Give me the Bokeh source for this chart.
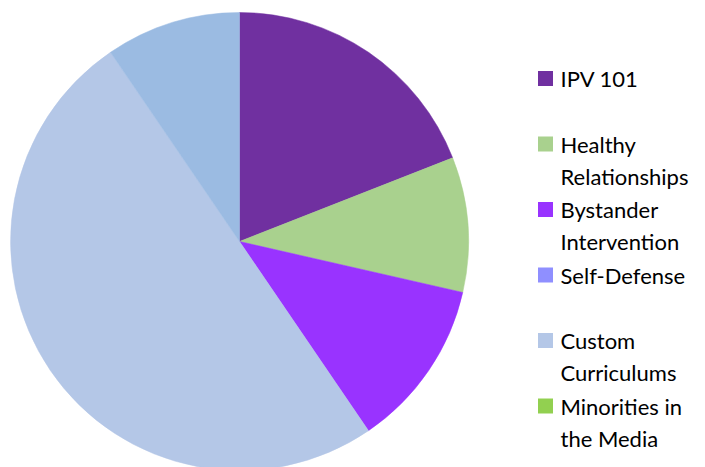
import math
from bokeh.plotting import figure
from bokeh.models import Range1d, ColumnDataSource
from bokeh.core.properties import value
from bokeh.embed import file_html
from bokeh.resources import INLINE

# Data
categories = ["IPV 101", "Healthy Relationships", "Bystander Intervention",
              "Self-Defense", "Custom Curriculums", "Minorities in the Media", "Other"]
values = [8, 4, 5, 0, 21, 0, 4]
colors = ["#7030A0", "#A9D18E", "#9933FF", "#8F8FFF", "#B4C7E7", "#92D050", "#9BBBE2"]
legend_lines = [["IPV 101"], ["Healthy", "Relationships"], ["Bystander", "Intervention"],
                ["Self-Defense"], ["Custom", "Curriculums"], ["Minorities in", "the Media"]]

W, H = 705, 467
p = figure(width=W, height=H, output_backend="svg", toolbar_location=None,
           x_range=Range1d(0, W), y_range=Range1d(0, H), min_border=0)
p.axis.visible = False
p.grid.visible = False
p.outline_line_color = None
p.background_fill_color = "white"

# Pie geometry (layout)
cx, cy, r = 239, H - 241, 229
total = sum(values)
starts, ends, cols = [], [], []
a = math.pi / 2
for v, c in zip(values, colors):
    b = a - 2 * math.pi * v / total
    if v > 0:
        starts.append(b)
        ends.append(a)
        cols.append(c)
    a = b

src = ColumnDataSource(dict(start=starts, end=ends, color=cols))
p.wedge(x=cx, y=cy, radius=r, start_angle="start", end_angle="end",
        fill_color="color", line_color="color", line_width=0.5, source=src)

# Legend (manual)
lx_sq, lx_txt = 545, 560
y0, dy, line_dy = 78, 65.5, 32
sq_x, sq_y, sq_c = [], [], []
tx, ty, tt = [], [], []
for i, lines in enumerate(legend_lines):
    yc = y0 + i * dy
    sq_x.append(lx_sq)
    sq_y.append(H - yc)
    sq_c.append(colors[i])
    for j, t in enumerate(lines):
        tx.append(lx_txt)
        ty.append(H - (yc + j * line_dy))
        tt.append(t)
p.rect(x=sq_x, y=sq_y, width=15, height=15, fill_color=sq_c, line_color=None)
p.text(x=tx, y=ty, text=tt, text_font=value("Lato"), text_font_size="22px",
       text_baseline="middle", text_align="left", text_color="#000000")

open("out.html", "w").write(file_html(p, INLINE))
